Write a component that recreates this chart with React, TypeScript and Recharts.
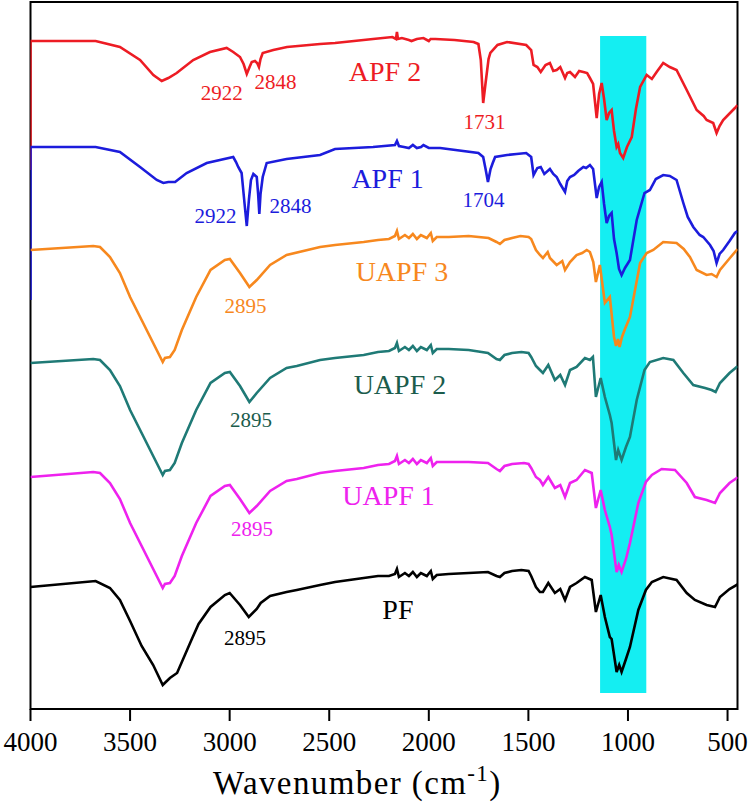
import {
    LineChart,
    Line,
    XAxis,
    YAxis,
    ReferenceArea,
    ReferenceDot,
} from 'recharts'

// [wavenumber, transmittance (a.u., stacked)]
const apf2: number[][] = [
    [4000, 539], [4000, 668], [3673, 668], [3551, 662], [3450, 649], [3383, 634], [3341, 628], [3308, 631],
    [3266, 636], [3183, 649], [3099, 657], [3015, 661], [2982, 657], [2948, 652], [2930, 645], [2914, 635],
    [2900, 642], [2889, 647], [2873, 648], [2862, 646], [2853, 642], [2845, 650], [2834, 656], [2781, 659],
    [2712, 662], [2546, 665], [2471, 666], [2280, 670], [2183, 672], [2165, 670], [2160, 677], [2155, 670],
    [2135, 671], [2100, 669], [2087, 668], [2060, 670], [2027, 671], [2000, 668], [1991, 670], [1967, 670],
    [1871, 669], [1775, 667], [1751, 665], [1739, 649], [1727, 606], [1715, 626], [1700, 650], [1691, 656],
    [1655, 664], [1607, 667], [1511, 664], [1486, 659], [1474, 644], [1455, 642], [1438, 637], [1414, 644],
    [1392, 646], [1375, 638], [1358, 639], [1340, 642], [1316, 631], [1305, 636], [1291, 637], [1266, 632],
    [1245, 638], [1224, 637], [1205, 636], [1191, 631], [1175, 625], [1157, 591], [1145, 615], [1132, 626],
    [1120, 610], [1107, 589], [1095, 596], [1082, 599], [1070, 578], [1057, 562], [1049, 565], [1040, 556],
    [1024, 551], [1005, 562], [981, 572], [960, 600], [939, 622], [906, 634], [880, 630], [856, 637],
    [823, 646], [790, 642], [756, 639], [705, 619], [655, 599], [620, 593], [605, 589], [572, 586],
    [555, 576], [540, 583], [522, 589], [463, 601], [450, 604],
]

const apf1: number[][] = [
    [4000, 409], [4000, 562], [3673, 562], [3551, 557], [3450, 542], [3366, 529], [3333, 526], [3308, 527],
    [3274, 527], [3216, 536], [3115, 546], [2982, 552], [2968, 547], [2957, 542], [2940, 536], [2925, 505],
    [2914, 483], [2903, 510], [2893, 529], [2881, 535], [2864, 532], [2857, 515], [2851, 495], [2845, 515],
    [2834, 532], [2814, 546], [2714, 550], [2546, 554], [2471, 560], [2280, 562], [2170, 564], [2160, 568],
    [2150, 563], [2125, 562], [2100, 561], [2080, 564], [2060, 561], [2039, 562], [2027, 564], [2000, 561],
    [1943, 561], [1751, 556], [1727, 552], [1715, 540], [1703, 527], [1690, 540], [1679, 546], [1667, 552],
    [1607, 554], [1559, 555], [1511, 556], [1486, 552], [1474, 534], [1455, 541], [1438, 542], [1420, 535],
    [1392, 540], [1375, 535], [1358, 532], [1340, 525], [1316, 517], [1305, 528], [1291, 532], [1270, 534],
    [1250, 538], [1224, 542], [1210, 541], [1191, 544], [1175, 540], [1157, 511], [1145, 522], [1132, 527],
    [1120, 505], [1107, 486], [1095, 493], [1082, 496], [1070, 470], [1057, 456], [1045, 440], [1032, 434],
    [1015, 441], [990, 449], [956, 489], [917, 516], [890, 519], [860, 530], [823, 534], [790, 533],
    [756, 529], [722, 506], [700, 492], [672, 482], [640, 474], [622, 472], [588, 464], [570, 458],
    [555, 446], [540, 455], [522, 459], [490, 468], [463, 476], [450, 478],
]

const uapf3: number[][] = [
    [4000, 459], [3685, 463], [3651, 462], [3601, 452], [3551, 436], [3500, 412], [3442, 389], [3384, 366],
    [3336, 347], [3325, 351], [3300, 352], [3276, 359], [3240, 379], [3168, 412], [3096, 439], [3024, 449],
    [2999, 450], [2948, 436], [2901, 422], [2864, 429], [2797, 444], [2714, 454], [2546, 462], [2471, 464],
    [2327, 467], [2255, 469], [2200, 470], [2170, 473], [2160, 478], [2150, 470], [2120, 474], [2100, 471],
    [2080, 475], [2060, 470], [2040, 474], [2010, 471], [1990, 476], [1980, 468], [1960, 472], [1900, 472],
    [1800, 473], [1700, 471], [1660, 467], [1643, 465], [1620, 469], [1582, 471], [1540, 473], [1499, 472],
    [1486, 470], [1462, 459], [1442, 454], [1427, 451], [1403, 457], [1392, 451], [1358, 444], [1330, 448],
    [1316, 439], [1291, 447], [1258, 454], [1230, 456], [1207, 459], [1191, 457], [1174, 447], [1161, 427],
    [1141, 444], [1116, 406], [1091, 412], [1070, 372], [1060, 363], [1050, 370], [1042, 362], [1030, 372],
    [1015, 380], [990, 392], [939, 446], [906, 456], [873, 459], [823, 467], [756, 466], [720, 460],
    [689, 452], [655, 439], [605, 434], [580, 435], [555, 432], [538, 439], [488, 451], [454, 459], [450, 460],
]

const uapf2: number[][] = [
    [4000, 346], [3685, 350], [3651, 349], [3601, 339], [3551, 323], [3500, 299], [3442, 276], [3384, 253],
    [3336, 234], [3325, 238], [3300, 239], [3276, 246], [3240, 266], [3168, 299], [3096, 326], [3024, 336],
    [2999, 337], [2948, 323], [2901, 307], [2864, 316], [2797, 331], [2714, 341], [2663, 343], [2546, 349],
    [2471, 351], [2327, 354], [2255, 357], [2200, 358], [2170, 361], [2160, 366], [2150, 358], [2120, 362],
    [2100, 359], [2080, 363], [2060, 358], [2040, 362], [2010, 359], [1990, 364], [1980, 356], [1960, 360],
    [1900, 360], [1800, 359], [1703, 356], [1660, 350], [1643, 349], [1620, 354], [1582, 356], [1535, 357],
    [1499, 356], [1486, 352], [1462, 343], [1442, 339], [1427, 336], [1400, 344], [1367, 329], [1340, 334],
    [1316, 324], [1291, 339], [1258, 342], [1216, 351], [1191, 349], [1176, 352], [1161, 312], [1137, 331],
    [1116, 312], [1091, 294], [1082, 286], [1060, 249], [1049, 259], [1032, 249], [1010, 262], [990, 272],
    [956, 309], [917, 339], [890, 347], [823, 351], [772, 349], [722, 336], [672, 324], [613, 321],
    [580, 319], [560, 317], [538, 326], [490, 336], [454, 342], [450, 343],
]

const uapf1: number[][] = [
    [4000, 232], [3685, 237], [3651, 236], [3601, 226], [3551, 210], [3500, 186], [3442, 163], [3384, 140],
    [3336, 121], [3325, 125], [3300, 126], [3276, 133], [3240, 153], [3168, 186], [3096, 213], [3024, 223],
    [2999, 224], [2948, 210], [2901, 196], [2864, 203], [2797, 218], [2714, 228], [2663, 230], [2546, 236],
    [2471, 238], [2327, 241], [2255, 244], [2200, 245], [2170, 248], [2160, 253], [2150, 245], [2120, 249],
    [2100, 246], [2080, 250], [2060, 245], [2040, 249], [2010, 246], [1990, 251], [1980, 243], [1960, 247],
    [1900, 247], [1800, 247], [1703, 246], [1660, 240], [1643, 238], [1620, 243], [1582, 245], [1522, 246],
    [1499, 245], [1486, 241], [1462, 232], [1442, 229], [1427, 224], [1400, 232], [1367, 221], [1340, 224],
    [1316, 212], [1291, 226], [1258, 229], [1216, 239], [1182, 236], [1161, 201], [1137, 219], [1116, 199],
    [1091, 182], [1082, 174], [1057, 137], [1046, 144], [1032, 137], [1010, 150], [990, 166], [948, 206],
    [910, 227], [880, 234], [831, 240], [764, 239], [705, 226], [664, 212], [605, 209], [563, 206],
    [538, 216], [490, 226], [454, 231], [450, 232],
]

const pf: number[][] = [
    [4000, 122], [3673, 128], [3601, 121], [3551, 109], [3500, 88], [3442, 63], [3384, 44], [3336, 24],
    [3300, 31], [3264, 36], [3192, 69], [3156, 85], [3096, 102], [3024, 114], [3000, 116], [2948, 104],
    [2904, 92], [2864, 100], [2844, 106], [2797, 113], [2714, 117], [2663, 119], [2546, 124], [2471, 127],
    [2327, 131], [2255, 133], [2200, 133], [2170, 135], [2160, 140], [2150, 132], [2120, 136], [2100, 133],
    [2080, 137], [2060, 132], [2040, 136], [2010, 133], [1990, 138], [1980, 130], [1960, 134], [1900, 135],
    [1800, 136], [1703, 137], [1660, 133], [1643, 132], [1620, 136], [1582, 138], [1535, 139], [1499, 138],
    [1486, 133], [1462, 122], [1442, 117], [1427, 117], [1400, 126], [1367, 116], [1340, 120], [1316, 109],
    [1291, 122], [1258, 126], [1216, 132], [1182, 129], [1161, 97], [1137, 114], [1116, 92], [1091, 72],
    [1082, 70], [1057, 37], [1044, 44], [1032, 37], [1010, 50], [990, 62], [948, 99], [910, 119],
    [880, 127], [823, 132], [756, 129], [705, 116], [664, 109], [605, 104], [563, 102], [538, 112],
    [490, 120], [454, 124], [450, 125],
]

const xTicks = [4000, 3500, 3000, 2500, 2000, 1500, 1000, 500]
const xDomain = [450, 4000]
const yDomain = [0, 707]

// highlighted band (cm-1) and its vertical extent
const band = [1140, 908]
const bandY = [16, 673]

// [text, wavenumber, y, color, fontSize]
const notes: [string, number, number, string, number][] = [
    ['APF 2', 2220, 638, '#ed1c24', 28],
    ['2922', 3040, 616, '#ed1c24', 21],
    ['2848', 2770, 627, '#ed1c24', 21],
    ['1731', 1720, 587, '#ed1c24', 21],
    ['APF 1', 2207, 531, '#1c1cdc', 28],
    ['2922', 3071, 493, '#1c1cdc', 21],
    ['2848', 2695, 503, '#1c1cdc', 21],
    ['1704', 1725, 509, '#1c1cdc', 21],
    ['UAPF 3', 2135, 438, '#f7881e', 28],
    ['2895', 2920, 403, '#f7881e', 21],
    ['UAPF 2', 2145, 325, '#1b5c4c', 28],
    ['2895', 2893, 289, '#1b5c4c', 21],
    ['UAPF 1', 2202, 214, '#ee22ee', 28],
    ['2895', 2888, 180, '#ee22ee', 21],
    ['PF', 2155, 100, '#000000', 28],
    ['2895', 2923, 71, '#000000', 21],
]

const series = [
    { name: 'APF 2', pts: apf2, color: '#ed1c24' },
    { name: 'APF 1', pts: apf1, color: '#1c1cdc' },
    { name: 'UAPF 3', pts: uapf3, color: '#f7881e' },
    { name: 'UAPF 2', pts: uapf2, color: '#1f7a76' },
    { name: 'UAPF 1', pts: uapf1, color: '#ee22ee' },
    { name: 'PF', pts: pf, color: '#000000' },
]

const font = '"Liberation Serif", "Times New Roman", serif'

const AxisTitle = () => (
    <text
        x={213}
        y={794}
        fontSize={33}
        fontFamily={font}
        letterSpacing={1.4}
        fill="#000"
    >
        Wavenumber (cm
        <tspan dy={-13} fontSize={23}>-1</tspan>
        <tspan dy={13}>)</tspan>
    </text>
)

const App = () => {
    return (
        <div style={{ position: 'absolute', left: 0, top: 0 }}>
            <LineChart
                width={750}
                height={804}
                margin={{ top: 2, right: 12.5, left: 30.5, bottom: 35 }}
            >
                {/* plot frame */}
                <ReferenceArea
                    x1={xDomain[0]}
                    x2={xDomain[1]}
                    y1={yDomain[0]}
                    y2={yDomain[1]}
                    fill="none"
                    stroke="#000"
                    strokeWidth={2}
                    ifOverflow="visible"
                />
                <ReferenceArea
                    x1={band[0]}
                    x2={band[1]}
                    y1={bandY[0]}
                    y2={bandY[1]}
                    fill="#14eef2"
                    fillOpacity={1}
                    stroke="none"
                />
                <XAxis
                    type="number"
                    dataKey="x"
                    domain={xDomain}
                    reversed
                    ticks={xTicks}
                    allowDataOverflow
                    height={60}
                    tickSize={12}
                    tickMargin={11}
                    stroke="#000"
                    strokeWidth={2}
                    tick={{ fontSize: 27, fontFamily: font, fill: '#000' }}
                    label={{ content: () => <AxisTitle /> }}
                />
                <YAxis type="number" domain={yDomain} hide />
                {series.map((s) => (
                    <Line
                        key={s.name}
                        name={s.name}
                        data={s.pts.map(([x, v]) => ({ x, v }))}
                        dataKey="v"
                        type="linear"
                        stroke={s.color}
                        strokeWidth={2.6}
                        dot={false}
                        isAnimationActive={false}
                    />
                ))}
                {notes.map(([text, x, y, color, size], i) => (
                    <ReferenceDot
                        key={i}
                        x={x}
                        y={y}
                        r={0}
                        fill="none"
                        stroke="none"
                        ifOverflow="visible"
                        label={{
                            value: text,
                            position: 'center',
                            fill: color,
                            fontSize: size,
                            fontFamily: font,
                        }}
                    />
                ))}
            </LineChart>
        </div>
    )
}

export default App
